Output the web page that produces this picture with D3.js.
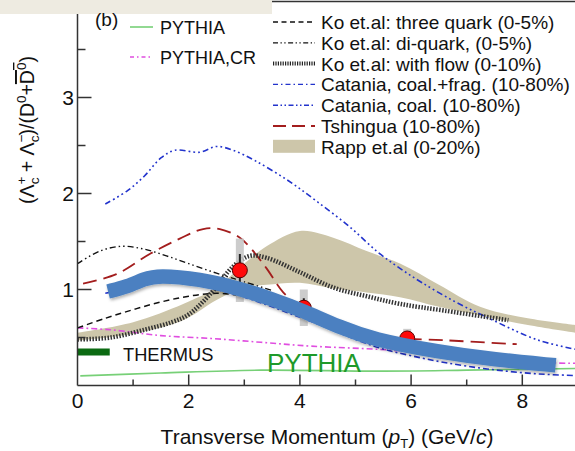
<!DOCTYPE html>
<html>
<head>
<meta charset="utf-8">
<script src="https://cdn.jsdelivr.net/npm/d3@7/dist/d3.min.js"></script>
<style>
  html, body { margin: 0; padding: 0; background: #fff; }
  svg { display: block; font-family: "Liberation Sans", Arial, Helvetica, sans-serif; }
</style>
</head>
<body>
<svg id="chart" width="575" height="451"></svg>
<script>
// ---- data: Lambda_c / D0 ratio vs pT ----
const xTicks = [0, 2, 4, 6, 8];
const yTicks = [1, 2, 3];

// STAR measurement
const dataPt = [2.92, 4.07, 5.93];
const dataRatio = [1.2, 0.81, 0.49];
const dataStat = [0.17, 0.1, 0.06];
const dataSys = [0.33, 0.19, 0.1];

// model curves: [pT, ratio]
const koThreeQuark = [[0,0.6],[0.5,0.7],[1,0.79],[1.5,0.87],[2,0.93],[2.5,0.96],[3,0.93],[3.5,0.86],[4,0.78]];
const koDiQuark = [[0,1.27],[0.4,1.4],[0.8,1.45],[1.2,1.42],[1.6,1.35],[2,1.27],[2.5,1.17],[3,1.08],[3.5,0.99]];
const koFlow = [[0,0.48],[0.6,0.5],[1.2,0.58],[1.7,0.66],[2,0.74],[2.4,0.96],[2.8,1.24],[3.1,1.35],[3.4,1.33],[4,1.18],[4.6,1.02],[5.2,0.93],[5.8,0.85],[6.6,0.78],[7.75,0.68]];
const cataniaCoalFrag = [[0.5,0.96],[1,1.02],[1.5,1.08],[2,1.06],[2.5,1.0],[3,0.92],[3.5,0.82],[4,0.71],[4.5,0.6],[5,0.48],[5.5,0.38],[6,0.31],[6.6,0.24],[7.4,0.17],[8.3,0.12],[9.2,0.1]];
const cataniaCoal = [[0.5,1.89],[0.9,2.03],[1.2,2.18],[1.5,2.37],[1.75,2.45],[2.2,2.43],[2.5,2.49],[2.8,2.45],[3.2,2.34],[3.8,2.13],[4.3,1.92],[4.9,1.65],[5.4,1.39],[5.8,1.22],[6.2,1.07],[6.8,0.87],[7.4,0.7],[8.3,0.47],[9.2,0.35]];
const tshingua = [[0.1,1.06],[0.7,1.16],[1.3,1.37],[1.84,1.53],[2.26,1.63],[2.56,1.63],[2.92,1.54],[3.1,1.44],[3.4,1.22],[3.7,0.97],[4.0,0.82],[4.3,0.71],[4.6,0.62],[5.08,0.54],[5.5,0.5],[6.64,0.47],[7.9,0.43]];
const pythia = [[0.05,0.1],[1.5,0.13],[3.3,0.16],[5.4,0.15],[7,0.16],[9.2,0.18]];
const pythiaCR = [[0,0.6],[0.6,0.58],[1.5,0.52],[2.4,0.49],[3.3,0.45],[4.2,0.41],[5.6,0.37],[7,0.3],[8.3,0.24],[9.2,0.23]];
// Rapp band: [pT, low, high]
const rappBand = [[0,0.47,0.55],[1,0.54,0.66],[1.9,0.68,0.85],[2.5,0.89,1.02],[3,1.02,1.27],[3.4,1.05,1.45],[4,1.07,1.61],[4.6,1.01,1.54],[5.2,0.97,1.4],[5.8,0.92,1.27],[6.5,0.82,1.05],[7.24,0.73,0.82],[8.1,0.63,0.7],[8.95,0.55,0.63]];
// highlighted PYTHIA trend band
const highlight = [[0.55,0.98],[0.9,1.03],[1.2,1.11],[1.45,1.15],[2.2,1.11],[2.92,1.01],[3.5,0.9],[4.05,0.78],[4.7,0.61],[5.31,0.48],[6.5,0.35],[7.5,0.27],[8.6,0.21]];
// THERMUS statistical-model value
const thermus = 0.35;
const thermusPt = [0, 0.58];

const legendRight = [
  {label: "Ko et.al: three quark (0-5%)", color: "#111", dash: "5,3.5", w: 1.5},
  {label: "Ko et.al: di-quark, (0-5%)", color: "#111", dash: "5,2.5,1.3,2.5,1.3,2.5", w: 1.3},
  {label: "Ko et.al: with flow (0-10%)", color: "#222", dash: "1.2,1.2", w: 4},
  {label: "Catania, coal.+frag. (10-80%)", color: "#2233cc", dash: "5,3,1.5,3", w: 1.4},
  {label: "Catania, coal. (10-80%)", color: "#2233cc", dash: "5,2.5,1.5,2.5,1.5,2.5", w: 1.4},
  {label: "Tshingua (10-80%)", color: "#a31d1d", dash: "13,6", w: 1.8},
  {label: "Rapp et.al (0-20%)", band: true}
];

// ---- layout ----
const svg = d3.select("#chart");
const x = d3.scaleLinear().domain([0, 10]).range([77.5, 77.5 + 556]);
const y = d3.scaleLinear().domain([0, 4]).range([385.5, 1.5]);

const defs = svg.append("defs");
defs.append("clipPath").attr("id", "plot").append("rect")
  .attr("x", x(0)).attr("y", y(4)).attr("width", 575 - x(0)).attr("height", y(0) - y(4));
const sh = defs.append("filter").attr("id", "shadow").attr("x", "-10%").attr("y", "-50%").attr("width", "120%").attr("height", "200%");
sh.append("feDropShadow").attr("dx", 1).attr("dy", 2).attr("stdDeviation", 1.5).attr("flood-color", "#000").attr("flood-opacity", 0.3);

const plot = svg.append("g").attr("clip-path", "url(#plot)");
const line = d3.line().x(d => x(d[0])).y(d => y(d[1])).curve(d3.curveCatmullRom.alpha(0.5));

// Rapp band
plot.append("path")
  .attr("d", d3.area().x(d => x(d[0])).y0(d => y(d[1])).y1(d => y(d[2])).curve(d3.curveCatmullRom.alpha(0.5))(rappBand))
  .attr("fill", "#cdc6aa");

function drawCurve(data, color, dash, w) {
  plot.append("path").attr("d", line(data)).attr("fill", "none")
    .attr("stroke", color).attr("stroke-width", w).attr("stroke-dasharray", dash);
}
drawCurve(pythia, "#77d077", null, 1.6);
drawCurve(pythiaCR, "#e04ee0", "6,3,1.8,3", 1.6);
drawCurve(koThreeQuark, "#111", "6,4", 1.5);
drawCurve(koDiQuark, "#111", "6,3,1.5,3,1.5,3", 1.4);
drawCurve(cataniaCoalFrag, "#2233cc", "6,3,2,3", 1.6);
drawCurve(cataniaCoal, "#2233cc", "6,3,1.8,3,1.8,3,1.8,3", 1.6);
drawCurve(tshingua, "#a31d1d", "14,7", 1.8);
drawCurve(koFlow, "#333", "1.5,1.5", 4.5);

// measured points: systematic boxes, statistical bars, markers
dataPt.forEach((p, i) => {
  plot.append("rect")
    .attr("x", x(p) - 4).attr("width", 8)
    .attr("y", y(dataRatio[i] + dataSys[i])).attr("height", y(dataRatio[i] - dataSys[i]) - y(dataRatio[i] + dataSys[i]))
    .attr("fill", "#c6c6c6").attr("opacity", 0.9);
  plot.append("line")
    .attr("x1", x(p)).attr("x2", x(p))
    .attr("y1", y(dataRatio[i] + dataStat[i])).attr("y2", y(dataRatio[i] - dataStat[i]))
    .attr("stroke", "#222").attr("stroke-width", 2);
  plot.append("circle")
    .attr("cx", x(p)).attr("cy", y(dataRatio[i])).attr("r", 7.5)
    .attr("fill", "#ff0a0a").attr("stroke", "#5a0000").attr("stroke-width", 1);
});

// highlighted trend band
plot.append("path").attr("d", d3.line().x(d => x(d[0])).y(d => y(d[1])).curve(d3.curveBasis)(highlight))
  .attr("fill", "none").attr("stroke", "#4b80c1").attr("stroke-width", 14.5)
  .attr("filter", "url(#shadow)");

// THERMUS marker
plot.append("line")
  .attr("x1", x(thermusPt[0])).attr("x2", x(thermusPt[1]))
  .attr("y1", y(thermus)).attr("y2", y(thermus))
  .attr("stroke", "#0b6a12").attr("stroke-width", 7);
svg.append("text").attr("x", 123).attr("y", 361).attr("font-size", 18.3).attr("fill", "#111").text("THERMUS");
svg.append("text").attr("x", 267).attr("y", 372).attr("font-size", 26).attr("fill", "#1e9a2a").text("PYTHIA");

// ---- axes ----
const axisColor = "#333";
const ax = svg.append("g").attr("stroke", axisColor).attr("stroke-width", 1.5);
ax.append("line").attr("x1", x(0)).attr("x2", 575).attr("y1", y(0)).attr("y2", y(0));
ax.append("line").attr("x1", x(0)).attr("x2", x(0)).attr("y1", y(0)).attr("y2", y(4));
ax.append("line").attr("x1", x(0)).attr("x2", 575).attr("y1", y(4)).attr("y2", y(4));

// y ticks (inward)
d3.range(0.5, 4, 0.5).forEach(v => {
  const major = Number.isInteger(v);
  ax.append("line").attr("x1", x(0)).attr("x2", x(0) + (major ? 14 : 8)).attr("y1", y(v)).attr("y2", y(v));
});
// x ticks (inward)
d3.range(1, 10, 1).forEach(v => {
  const major = v % 2 === 0;
  ax.append("line").attr("x1", x(v)).attr("x2", x(v)).attr("y1", y(0)).attr("y2", y(0) - (major ? 11 : 6));
});

svg.append("g").selectAll("text").data(yTicks).join("text")
  .attr("x", 74).attr("y", d => y(d) + 7.5).attr("text-anchor", "end")
  .attr("font-size", 21).attr("fill", "#111").text(d => d);
svg.append("g").selectAll("text").data(xTicks).join("text")
  .attr("x", d => x(d)).attr("y", 408).attr("text-anchor", "middle")
  .attr("font-size", 21).attr("fill", "#111").text(d => d);

// x title
const xt = svg.append("text").attr("x", 327).attr("y", 444).attr("text-anchor", "middle")
  .attr("font-size", 21).attr("fill", "#111");
xt.append("tspan").text("Transverse Momentum (");
xt.append("tspan").attr("font-style", "italic").text("p");
xt.append("tspan").attr("font-size", 13).attr("dy", 4).text("T");
xt.append("tspan").attr("dy", -4).text(") (GeV/");
xt.append("tspan").attr("font-style", "italic").text("c");
xt.append("tspan").text(")");

// y title
const yt = svg.append("text").attr("transform", "translate(34,130) rotate(-90)")
  .attr("text-anchor", "middle").attr("font-size", 19.5).attr("fill", "#111");
yt.append("tspan").text("(Λ");
yt.append("tspan").attr("font-size", 13.5).attr("dy", -8).text("+");
yt.append("tspan").attr("font-size", 13.5).attr("dx", -7.8).attr("dy", 13).text("c");
yt.append("tspan").attr("dy", -5).text(" + Λ");
yt.append("tspan").attr("font-size", 13.5).attr("dy", -8).text("−");
yt.append("tspan").attr("font-size", 13.5).attr("dx", -7.8).attr("dy", 13).text("c");
yt.append("tspan").attr("dy", -5).text(")/(D");
yt.append("tspan").attr("font-size", 13.5).attr("dy", -8).text("0");
yt.append("tspan").attr("dy", 8).text("+");
yt.append("tspan").attr("text-decoration", "overline").text("D");
yt.append("tspan").attr("font-size", 13.5).attr("dy", -8).attr("text-decoration", "overline").text("0");
yt.append("tspan").attr("dy", 8).text(")");

// ---- legends ----
svg.append("rect").attr("x", 0).attr("y", 0).attr("width", 272).attr("height", 14).attr("fill", "#eeebe1");
svg.append("text").attr("x", 95).attr("y", 26).attr("font-size", 19).attr("fill", "#111").text("(b)");

const legLeft = svg.append("g");
legLeft.append("line").attr("x1", 130).attr("x2", 153).attr("y1", 27).attr("y2", 27)
  .attr("stroke", "#77d077").attr("stroke-width", 1.6);
legLeft.append("text").attr("x", 160).attr("y", 33.5).attr("font-size", 18).attr("fill", "#111").text("PYTHIA");
legLeft.append("line").attr("x1", 130).attr("x2", 153).attr("y1", 57).attr("y2", 57)
  .attr("stroke", "#e04ee0").attr("stroke-width", 1.6).attr("stroke-dasharray", "4,3,1.5,3");
legLeft.append("text").attr("x", 160).attr("y", 63.5).attr("font-size", 18).attr("fill", "#111").text("PYTHIA,CR");

const legR = svg.append("g").selectAll("g").data(legendRight).join("g")
  .attr("transform", (d, i) => `translate(0,${22 + i * 20.8})`);
legR.each(function(d) {
  const g = d3.select(this);
  if (d.band) {
    g.append("rect").attr("x", 273).attr("y", -7).attr("width", 42).attr("height", 13).attr("fill", "#cdc6aa");
  } else {
    g.append("line").attr("x1", 273).attr("x2", 315).attr("y1", 0).attr("y2", 0)
      .attr("stroke", d.color).attr("stroke-width", d.w).attr("stroke-dasharray", d.dash);
  }
  g.append("text").attr("x", 321).attr("y", 7).attr("font-size", 19).attr("fill", "#111").text(d.label);
});
</script>
</body>
</html>
